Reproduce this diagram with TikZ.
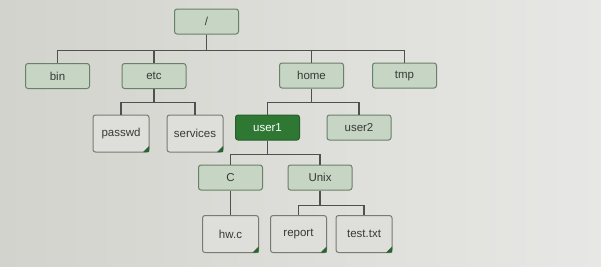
\documentclass[tikz,border=0pt]{standalone}
\usepackage{fontspec}
\setmainfont{Liberation Sans}
\definecolor{bgL}{RGB}{211,211,205}
\definecolor{bgR}{RGB}{231,231,229}
\definecolor{dirfill}{RGB}{198,213,196}
\definecolor{dirline}{RGB}{106,128,105}
\definecolor{userfill}{RGB}{46,120,52}
\definecolor{filefill}{RGB}{222,222,218}
\definecolor{fileline}{RGB}{118,124,116}
\definecolor{foldc}{RGB}{40,100,48}
\definecolor{txt}{RGB}{55,58,55}
\definecolor{wire}{RGB}{80,80,78}
\tikzset{
  dirbox/.style={draw=dirline, fill=dirfill, rounded corners=2.5pt, line width=1pt,
    minimum width=64pt, minimum height=25pt, inner sep=0pt, text=txt,
    font=\fontsize{11.5}{12}\selectfont},
  userbox/.style={dirbox, fill=userfill, draw=userfill!80!black, text=white},
  filebox/.style={draw=fileline, fill=filefill, rounded corners=2.5pt, line width=1pt,
    minimum width=56pt, minimum height=37pt, inner sep=0pt, text=txt,
    font=\fontsize{11.5}{12}\selectfont},
  wire/.style={draw=wire, line width=1.2pt},
  fold/.style={fill=foldc}
}
\begin{document}
\begin{tikzpicture}[x=1pt,y=-1pt]
\shade[left color=bgL, right color=bgR] (0,0) rectangle (601,266);
\useasboundingbox (0,0) rectangle (601,266);
% directories
\node[dirbox] (root) at (206.5,21.5) {/};
\node[dirbox] (bin) at (57.5,76) {bin};
\node[dirbox] (etc) at (154,76) {etc};
\node[dirbox] (home) at (311.5,75.5) {home};
\node[dirbox] (tmp) at (404.5,75.5) {tmp};
\node[userbox] (user1) at (267.5,127.5) {user1};
\node[dirbox] (user2) at (359,127.5) {user2};
\node[dirbox] (C) at (230.5,177.5) {C};
\node[dirbox] (unix) at (320,177.5) {Unix};
% files
\node[filebox] (passwd) at (121,133.5) {passwd};
\node[filebox] (services) at (195,133.5) {services};
\node[filebox] (hwc) at (230.5,234) {hw.c};
\node[filebox] (report) at (298.5,234) {report};
\node[filebox] (test) at (364,234) {test.txt};
\foreach \n in {passwd,services,hwc,report,test}{
  \fill[fold] (\n.south east) ++(-6.5,-0.5) -- ([shift={(-0.5,-0.5)}]\n.south east) -- ++(0,-6) -- cycle;
}
% connectors
\draw[wire] (root.south) -- ++(0,16) -| (bin.north);
\draw[wire] (root.south) -- ++(0,16) -| (etc.north);
\draw[wire] (root.south) -- ++(0,16) -| (home.north);
\draw[wire] (root.south) -- ++(0,16) -| (tmp.north);
\draw[wire] (etc.south) -- ++(0,13.5) -| (passwd.north);
\draw[wire] (etc.south) -- ++(0,13.5) -| (services.north);
\draw[wire] (home.south) -- ++(0,14) -| (user1.north);
\draw[wire] (home.south) -- ++(0,14) -| (user2.north);
\draw[wire] (user1.south) -- ++(0,14) -| (C.north);
\draw[wire] (user1.south) -- ++(0,14) -| (unix.north);
\draw[wire] (C.south) -- (hwc.north);
\draw[wire] (unix.south) -- ++(0,15) -| (report.north);
\draw[wire] (unix.south) -- ++(0,15) -| (test.north);
\end{tikzpicture}
\end{document}
